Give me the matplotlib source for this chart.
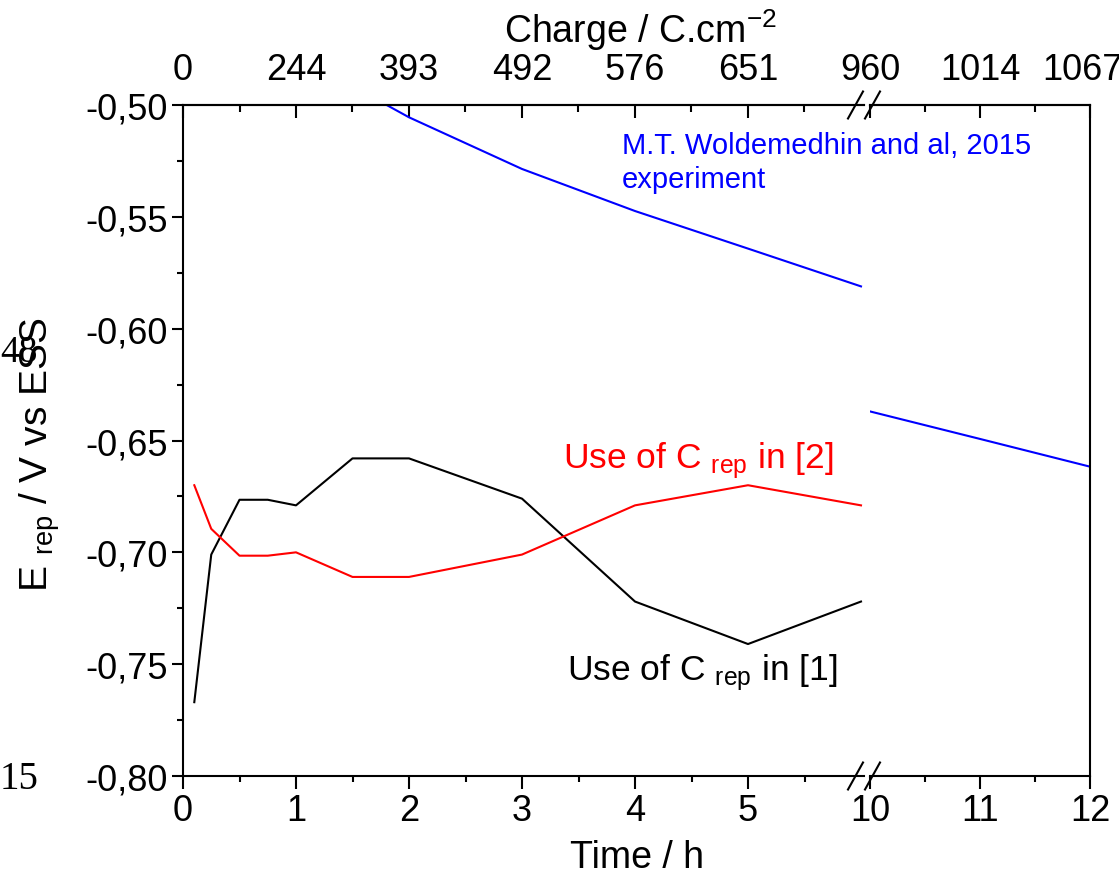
import numpy as np
import matplotlib.pyplot as plt
from matplotlib.ticker import FuncFormatter, FixedLocator, MultipleLocator
from matplotlib.lines import Line2D
from matplotlib.transforms import ScaledTranslation

plt.rcParams['font.family'] = ['Liberation Sans', 'DejaVu Sans']
plt.rcParams['mathtext.fontset'] = 'custom'
plt.rcParams['mathtext.rm'] = 'Liberation Sans'
plt.rcParams['mathtext.it'] = 'Liberation Sans:italic'

# simulated repassivation potential (V vs ESS) against time (h)
t_sim = [0.1, 0.25, 0.5, 0.75, 1.0, 1.5, 2.0, 3.0, 4.0, 5.0, 6.0]
e_ref1 = [-0.767, -0.701, -0.6765, -0.6765, -0.679, -0.658, -0.658, -0.676, -0.722, -0.741, -0.722]
e_ref2 = [-0.670, -0.6895, -0.7015, -0.7015, -0.700, -0.711, -0.711, -0.701, -0.679, -0.670, -0.679]

# experiment (Woldemedhin 2015)
t_exp = np.array([1.5, 2.0, 3.0, 4.0, 5.0, 6.0, 10.0, 11.0, 12.0])
e_exp = np.array([-0.4916, -0.5055, -0.5286, -0.5474, -0.5642, -0.5811, -0.637, -0.6493, -0.6617])

time_left = [0, 1, 2, 3, 4, 5]
charge_left = ['0', '244', '393', '492', '576', '651']
time_right = [10, 11, 12]
charge_right = ['960', '1014', '1067']

W, H = 1119, 878
fig = plt.figure(figsize=(W / 100, H / 100), dpi=100)


def fx(px):
    return px / W


def fy(py):
    return 1 - py / H


bot, top = fy(777), fy(106)
ax1 = fig.add_axes([fx(183), bot, 6.03 * 113 / W, top - bot])
ax2 = fig.add_axes([fx(870), bot, 220 / W, top - bot])
ax2.patch.set_visible(False)

m = t_exp <= 6
ax1.plot(t_sim, e_ref1, color='black', lw=1.5)
ax1.plot(t_sim, e_ref2, color='#ff0000', lw=1.5)
ax1.plot(t_exp[m], e_exp[m], color='#0000ff', lw=1.5)
ax2.plot(t_exp[~m], e_exp[~m], color='#0000ff', lw=1.5)

ax1.set_xlim(0, 6.03)
ax2.set_xlim(10, 12)
for ax in (ax1, ax2):
    ax.set_ylim(-0.80, -0.50)
    for s in ax.spines.values():
        s.set_linewidth(1.5)
ax1.spines['right'].set_visible(False)
ax2.spines['left'].set_visible(False)

ax1.yaxis.set_major_locator(MultipleLocator(0.05))
ax1.yaxis.set_minor_locator(MultipleLocator(0.025))
ax1.yaxis.set_major_formatter(FuncFormatter(lambda v, p: f"{v:.2f}".replace('.', ',')))
ax1.tick_params(axis='y', which='major', direction='out', length=8, width=1.5,
                labelsize=26, pad=3, right=False)
ax1.tick_params(axis='y', which='minor', direction='out', length=4, width=1.5, right=False)
ax2.tick_params(axis='y', which='both', left=False, right=False, labelleft=False)

secs = []
for ax, ticks, mins, labels in ((ax1, time_left, [0.5, 1.5, 2.5, 3.5, 4.5, 5.5], charge_left),
                                (ax2, time_right, [10.5, 11.5], charge_right)):
    ax.set_xticks(ticks)
    ax.xaxis.set_minor_locator(FixedLocator(mins))
    ax.tick_params(axis='x', which='major', direction='out', length=9, width=1.5,
                   labelsize=26, pad=3, top=False)
    ax.tick_params(axis='x', which='minor', direction='out', length=4.5, width=1.5, top=False)
    sec = ax.secondary_xaxis('top')
    sec.set_xticks(ticks, labels=labels)
    sec.xaxis.set_minor_locator(FixedLocator(mins))
    sec.spines['top'].set_linewidth(1.5)
    sec.tick_params(axis='x', which='major', direction='in', length=9, width=1.5,
                    labelsize=26, pad=13)
    sec.tick_params(axis='x', which='minor', direction='in', length=5, width=1.5)
    secs.append(sec)

# the last charge label sits a bit left of its tick, inside the figure
last = secs[1].xaxis.get_major_ticks()[-1].label2
last.set_transform(last.get_transform() + ScaledTranslation(-0.08, 0, fig.dpi_scale_trans))

# axis break marks
for yb in (106, 777):
    for x0 in (848, 865):
        fig.add_artist(Line2D([fx(x0), fx(x0 + 15)], [fy(yb + 13.5), fy(yb - 13.5)],
                              color='black', lw=1.5, transform=fig.transFigure))

# annotations
fig.text(fx(622), fy(132), "M.T. Woldemedhin and al, 2015\nexperiment", color='#0000ff',
         fontsize=21, ha='left', va='top', linespacing=1.25, zorder=5)
ax1.text(3.363, -0.6618, r"Use of C $_{\mathrm{rep}}$ in [2]", color='#ff0000',
         fontsize=25.5, ha='left', va='baseline')
ax1.text(3.398, -0.7566, r"Use of C $_{\mathrm{rep}}$ in [1]", color='black',
         fontsize=25.5, ha='left', va='baseline')

fig.text(fx(0), fy(353), "48", family='Liberation Serif', fontsize=27, ha='left', va='center')
fig.text(fx(0), fy(780), "15", family='Liberation Serif', fontsize=28, ha='left', va='center')

fig.text(fx(40), fy(455), r"E $_{\mathrm{rep}}$ / V vs ESS", rotation=90,
         fontsize=28, ha='center', va='center')
fig.text(fx(637), fy(858), "Time / h", fontsize=27, ha='center', va='center')
fig.text(fx(640), fy(30), r"Charge / C.cm$^{\mathrm{-2}}$", fontsize=27, ha='center', va='center')

fig.savefig('out.png', dpi=100)
